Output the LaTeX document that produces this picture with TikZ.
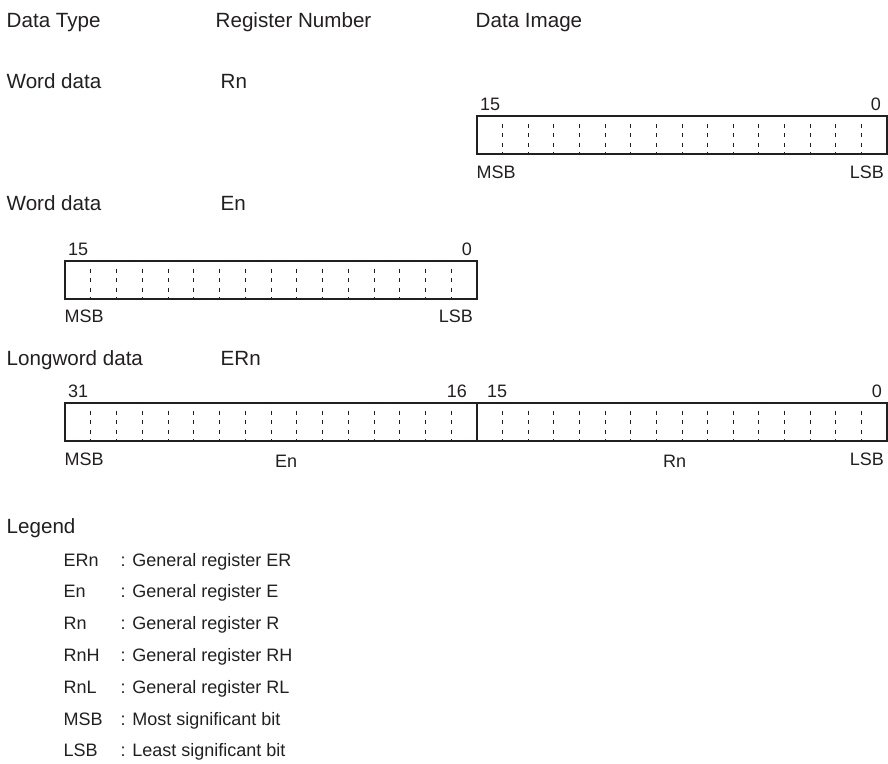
\documentclass[tikz,border=0pt]{standalone}
\usepackage{fontspec}
\setmainfont{Liberation Sans}
\definecolor{ink}{RGB}{35,31,32}
\begin{document}
\begin{tikzpicture}[x=1pt,y=-1pt,
  hdr/.style={font=\fontsize{20.6}{24}\selectfont, text=ink, inner sep=0pt, anchor=base west},
  lbl/.style={font=\fontsize{18}{22}\selectfont, text=ink, inner sep=0pt, anchor=base west},
  lblr/.style={lbl, anchor=base east},
  regbox/.style={draw=ink, line width=2pt},
  bitline/.style={draw=ink, line width=0.9pt, dash pattern=on 4pt off 5.5pt}]
\useasboundingbox (0,0) rectangle (888,763);

% headers
\node[hdr] (hType) at (6.5,27) {Data Type};
\node[hdr] (hReg) at (215.5,27) {Register Number};
\node[hdr] (hImg) at (475.5,27) {Data Image};

% row 1: Word data Rn
\node[hdr] (t1) at (6.5,88) {Word data};
\node[hdr] (r1) at (220.5,88) {Rn};
\draw[regbox] (477,116) rectangle (887,154);
\foreach \i in {1,...,15}
  \draw[bitline] ({477+\i*410/16},123.5) -- ({477+\i*410/16},154);
\node[lbl] (b1hi) at (480,110) {15};
\node[lblr] (b1lo) at (881,110) {0};
\node[lbl] (b1msb) at (476.5,178) {MSB};
\node[lblr] (b1lsb) at (884,178) {LSB};

% row 2: Word data En
\node[hdr] (t2) at (6.5,210) {Word data};
\node[hdr] (r2) at (220.5,210) {En};
\draw[regbox] (65,261) rectangle (477,299);
\foreach \i in {1,...,15}
  \draw[bitline] ({65+\i*412/16},268.5) -- ({65+\i*412/16},299);
\node[lbl] (b2hi) at (68,255) {15};
\node[lblr] (b2lo) at (472,255) {0};
\node[lbl] (b2msb) at (64.5,322) {MSB};
\node[lblr] (b2lsb) at (473,322) {LSB};

% row 3: Longword data ERn
\node[hdr] (t3) at (6.5,365) {Longword data};
\node[hdr] (r3) at (220.5,365) {ERn};
\draw[regbox] (65,403) rectangle (887,441);
\draw[regbox] (477,403) -- (477,441);
\foreach \i in {1,...,15}{
  \draw[bitline] ({65+\i*412/16},410.5) -- ({65+\i*412/16},441);
  \draw[bitline] ({477+\i*410/16},410.5) -- ({477+\i*410/16},441);
}
\node[lbl] (b3a) at (68,397) {31};
\node[lblr] (b3b) at (467,397) {16};
\node[lbl] (b3c) at (487,397) {15};
\node[lblr] (b3d) at (882,397) {0};
\node[lbl] (b3msb) at (64.5,465) {MSB};
\node[lbl] (b3en) at (275,467) {En};
\node[lbl] (b3rn) at (663,467) {Rn};
\node[lblr] (b3lsb) at (884,465) {LSB};

% legend
\node[hdr] (leg) at (6.5,533) {Legend};
\foreach \k/\ab/\tx in {0/ERn/General register ER, 1/En/General register E, 2/Rn/General register R, 3/RnH/General register RH, 4/RnL/General register RL, 5/MSB/Most significant bit, 6/LSB/Least significant bit}{
  \node[lbl] (ab\k) at (63.5,{566+\k*31.8}) {\ab};
  \node[lbl] (tx\k) at (120.5,{566+\k*31.8}) {: \tx};
}
\end{tikzpicture}
\end{document}
